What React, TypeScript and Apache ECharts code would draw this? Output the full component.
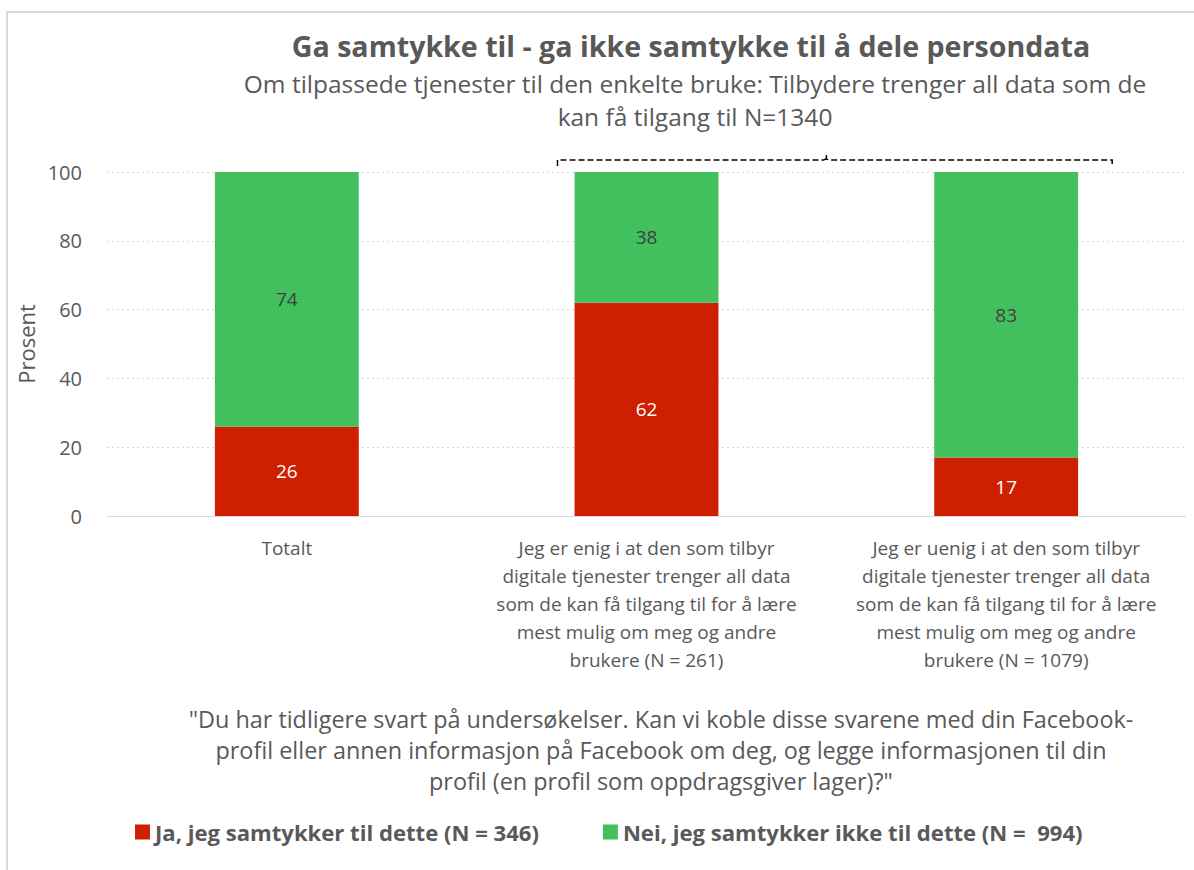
import React, { useEffect, useRef } from "react";
import * as echarts from "echarts";

const categories = [
  "Totalt",
  "Jeg er enig i at den som tilbyr\ndigitale tjenester trenger all data\nsom de kan få tilgang til for å lære\nmest mulig om meg og andre\nbrukere (N = 261)",
  "Jeg er uenig i at den som tilbyr\ndigitale tjenester trenger all data\nsom de kan få tilgang til for å lære\nmest mulig om meg og andre\nbrukere (N = 1079)",
];
const jaValues = [26, 62, 17];
const neiValues = [74, 38, 83];
const seriesNames = ["Ja, jeg samtykker til dette (N = 346)", "Nei, jeg samtykker ikke til dette (N =  994)"];
const yTicks = { min: 0, max: 100, interval: 20 };

const titleText = "Ga samtykke til - ga ikke samtykke til å dele persondata";
const subtitleText = "Om tilpassede tjenester til den enkelte bruke: Tilbydere trenger all data som de\nkan få tilgang til N=1340";
const questionText =
  '"Du har tidligere svart på undersøkelser. Kan vi koble disse svarene med din Facebook-\nprofil eller annen informasjon på Facebook om deg, og legge informasjonen til din\nprofil (en profil som oppdragsgiver lager)?"';

const FONT = "'Open Sans', sans-serif";
const TXT = "#595959";
const RED = "#CE1F00";
const GREEN = "#41C05D";

export default function App() {
  const ref = useRef<HTMLDivElement>(null);
  useEffect(() => {
    if (!ref.current) return;
    const chart = echarts.init(ref.current, null, { renderer: "svg" });
    const option: any = {
      animation: false,
      backgroundColor: "#fff",
      textStyle: { fontFamily: FONT },
      title: [
        {
          text: titleText,
          left: 686,
          top: 26,
          textAlign: "center",
          textStyle: { fontFamily: FONT, fontSize: 28.6, fontWeight: "bold", color: TXT },
        },
        {
          text: subtitleText,
          left: 690,
          top: 62,
          textAlign: "center",
          textStyle: { fontFamily: FONT, fontSize: 24.5, fontWeight: "normal", color: TXT, lineHeight: 33 },
        },
      ],
      legend: {
        top: 816,
        left: 130,
        icon: "rect",
        itemWidth: 15,
        itemHeight: 15,
        itemGap: 64,
        textStyle: { fontFamily: FONT, fontSize: 22.1, fontWeight: "bold", color: TXT },
        data: seriesNames,
      },
      grid: { left: 107, right: 8, top: 172, bottom: 354 },
      xAxis: {
        type: "category",
        data: categories,
        axisLine: { show: true, lineStyle: { color: "#D9D9D9", width: 1 } },
        axisTick: { show: false },
        axisLabel: {
          interval: 0,
          fontFamily: FONT,
          fontSize: 19,
          color: TXT,
          lineHeight: 28,
          margin: 18,
          verticalAlign: "top",
        },
      },
      yAxis: {
        type: "value",
        min: yTicks.min,
        max: yTicks.max,
        interval: yTicks.interval,
        name: "Prosent",
        nameLocation: "middle",
        nameRotate: 90,
        nameGap: 65,
        nameTextStyle: { fontFamily: FONT, fontSize: 22, color: TXT },
        axisLine: { show: false },
        axisTick: { show: false },
        axisLabel: { fontFamily: FONT, fontSize: 20, color: TXT, margin: 25 },
        splitLine: { show: true, lineStyle: { color: "#D9D9D9", type: [2, 3], width: 1 } },
      },
      series: [
        {
          name: seriesNames[0],
          type: "bar",
          stack: "s",
          data: jaValues,
          barWidth: "40%",
          itemStyle: { color: RED },
          label: { show: true, position: "inside", fontFamily: FONT, fontSize: 19, color: "#fff" },
        },
        {
          name: seriesNames[1],
          type: "bar",
          stack: "s",
          data: neiValues,
          barWidth: "40%",
          itemStyle: { color: GREEN },
          label: { show: true, position: "inside", fontFamily: FONT, fontSize: 19, color: "#404040" },
        },
      ],
    };
    chart.setOption(option);

    // bracket above the two subgroup bars
    const c1 = chart.convertToPixel({ xAxisIndex: 0 }, 1) as number;
    const c2 = chart.convertToPixel({ xAxisIndex: 0 }, 2) as number;
    const yTop = chart.convertToPixel({ yAxisIndex: 0 }, 100) as number;
    const by = yTop - 12;
    const x0 = c1 - 89;
    const x1 = c2 + 106;
    const mid = (c1 + c2) / 2;
    chart.setOption({
      graphic: [
        {
          type: "rect",
          z: -10,
          shape: { x: 7, y: 12, width: 1300, height: 1000 },
          style: { fill: "none", stroke: "#D9D9D9", lineWidth: 2 },
          silent: true,
        },
        {
          type: "text",
          x: 661,
          y: 703,
          style: {
            text: questionText,
            fontFamily: FONT,
            fontSize: 23.4,
            fill: TXT,
            textAlign: "center",
            lineHeight: 31,
          },
        },
        {
          type: "polyline",
          shape: { points: [[x0, by + 6], [x0, by], [mid - 3, by], [mid, by - 1], [mid, by - 5], [mid, by - 1], [mid + 3, by], [x1, by], [x1, by + 6]] },
          style: { stroke: "#000", lineWidth: 1.5, lineDash: [6, 3], fill: "none" },
        },
      ],
    });
    return () => chart.dispose();
  }, []);
  return <div ref={ref} style={{ position: "fixed", left: 0, top: 0, width: 1194, height: 870 }} />;
}
